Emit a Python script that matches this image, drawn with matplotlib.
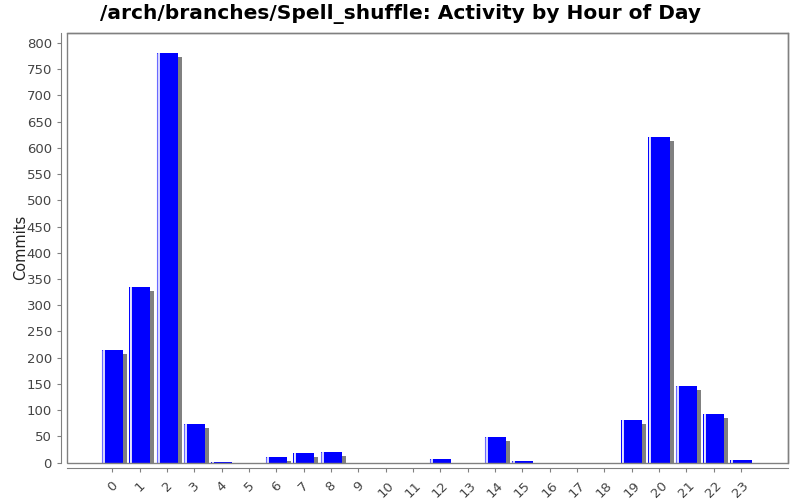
import matplotlib
matplotlib.use('Agg')
import matplotlib.pyplot as plt
from matplotlib.transforms import offset_copy
from matplotlib.patches import Rectangle
import numpy as np

# commits per hour of day
hours = [str(h) for h in range(24)]
commits = [214, 334, 780, 74, 1, 0, 11, 19, 20, 0, 0, 0,
           7, 0, 48, 3, 0, 0, 0, 81, 620, 146, 93, 4]

fig = plt.figure(figsize=(8, 5), dpi=100)
ax = fig.add_axes([66.5 / 800, 1 - 462.5 / 500, (788 - 66.5) / 800, (462.5 - 33) / 500])

x = np.arange(len(hours))
w = 0.77

# drop shadow, shifted right/down a few pixels
shadow_tr = offset_copy(ax.transData, fig=fig, x=4, y=-4, units='dots')
ax.bar(x, commits, width=w, color='#808080', transform=shadow_tr, zorder=1)
ax.bar(x, commits, width=w, color='#0000ff', zorder=2)

# highlight strip on left edge of each bar
edge_tr = offset_copy(ax.transData, fig=fig, x=0.5, y=0, units='dots')
hl = offset_copy(ax.transData, fig=fig, x=2.0, y=0, units='dots')
for xi, v in zip(x, commits):
    if v <= 0:
        continue
    ax.plot([xi - w / 2, xi - w / 2], [0, v], color='#6a6aff', lw=0.8, zorder=3,
            transform=edge_tr, solid_capstyle='butt')
    ax.plot([xi - w / 2, xi - w / 2], [0, v], color='white', lw=1.2, zorder=3,
            transform=hl, solid_capstyle='butt')

ax.set_xlim(-1.68, 24.72)
ax.set_ylim(0, 819)
ax.set_yticks(range(0, 801, 50))
ax.set_xticks(x)
ax.set_xticklabels(hours)

frame_col = '#808080'
for s in ['top', 'right']:
    ax.spines[s].set_color(frame_col)
    ax.spines[s].set_linewidth(1.0)
ax.spines['left'].set_position(('outward', 4))
ax.spines['bottom'].set_position(('outward', 4))
ax.spines['left'].set_color(frame_col)
ax.spines['bottom'].set_color(frame_col)
# inner plot frame
ax.add_patch(Rectangle((0, 0), 1, 1, transform=ax.transAxes, fill=False,
                       edgecolor=frame_col, lw=1.0, zorder=5, clip_on=False))

ax.tick_params(axis='both', colors=frame_col, labelcolor='#444444',
               labelsize=9.5, length=3, direction='out')
ax.tick_params(axis='x', pad=5, labelrotation=45)
for lbl in ax.get_xticklabels():
    lbl.set_ha('center')
    lbl.set_va('top')

ax.set_ylabel('Commits', fontsize=10.5, color='#222222', labelpad=-1)
fig.text(0.5, 0.971, '/arch/branches/Spell_shuffle: Activity by Hour of Day',
         ha='center', va='center', fontsize=14.5, fontweight='bold')

fig.savefig('out.png', dpi=100)
